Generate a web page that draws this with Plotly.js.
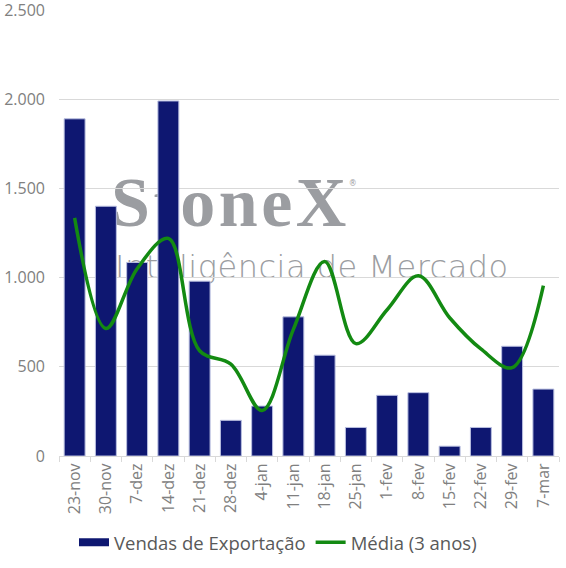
<!DOCTYPE html>
<html>
<head>
<meta charset="utf-8">
<script src="https://cdn.plot.ly/plotly-3.0.1.min.js"></script>
<style>
  html, body { margin: 0; padding: 0; background: #ffffff; }
  #wrap { position: relative; width: 566px; height: 568px; overflow: hidden; }
  #wm1 { position: absolute; left: 111px; top: 168px; z-index: 0;
         font-family: "Liberation Serif", serif; font-weight: bold; font-size: 70px;
         letter-spacing: 3.5px; color: #9b9da1; line-height: 1; white-space: nowrap; }
  #wm1 sup { font-family: "DejaVu Sans", sans-serif; font-weight: normal; font-size: 8px; vertical-align: top; position: relative; top: 12px; left: -1px; letter-spacing: 0; }
  #wm2 { position: absolute; left: 115px; top: 251px; z-index: 0;
         font-family: "DejaVu Sans", sans-serif; font-weight: 200; font-size: 32px;
         letter-spacing: 0.5px; color: #9b9da1; line-height: 1; white-space: nowrap; }
  #chart { position: absolute; left: 0; top: 0; width: 566px; height: 568px; z-index: 1; }
</style>
</head>
<body>
<div id="wrap">
  <div id="wm1">StoneX<sup>®</sup></div>
  <div id="wm2">Inteligência de Mercado</div>
  <div id="chart"></div>
</div>
<script>
const categories = ["23-nov","30-nov","7-dez","14-dez","21-dez","28-dez","4-jan","11-jan","18-jan","25-jan","1-fev","8-fev","15-fev","22-fev","29-fev","7-mar"];
const vendasExportacao = [1890, 1400, 1085, 1990, 980, 200, 280, 780, 565, 160, 340, 355, 55, 160, 615, 375];
const media3anos = [1335, 715, 1050, 1220, 590, 515, 255, 710, 1090, 630, 820, 1010, 775, 600, 495, 955];
const yTicks = [0, 500, 1000, 1500, 2000, 2500];

const fontFam = "'Open Sans', sans-serif";
const barColor = "#0e1771";
const lineColor = "#138a12";

const traces = [
  {
    type: "bar",
    name: "Vendas de Exportação",
    x: categories,
    y: vendasExportacao,
    marker: { color: barColor, line: { color: "#b9bfe0", width: 1 } },
    showlegend: false,
    legendgroup: "v"
  },
  {
    // legend entry for the bars (wide swatch like the reference)
    type: "scatter",
    mode: "lines",
    name: "Vendas de Exportação",
    x: [categories[0]],
    y: [null],
    line: { color: barColor, width: 8 },
    legendgroup: "v",
    showlegend: true
  },
  {
    type: "scatter",
    mode: "lines",
    name: "Média (3 anos)",
    x: categories,
    y: media3anos,
    line: { color: lineColor, width: 3.5, shape: "spline", smoothing: 1 }
  }
];

const layout = {
  width: 566,
  height: 568,
  margin: { l: 59, r: 7, t: 10, b: 111 },
  paper_bgcolor: "rgba(0,0,0,0)",
  plot_bgcolor: "rgba(0,0,0,0)",
  separators: ",.",
  bargap: 0.33,
  font: { family: fontFam, color: "#808080", size: 16 },
  showlegend: true,
  legend: {
    orientation: "h",
    x: 0.03, xanchor: "left",
    y: -0.192, yanchor: "middle",
    font: { family: fontFam, size: 18.5, color: "#595959" },
    itemwidth: 30,
    traceorder: "normal"
  },
  xaxis: {
    type: "category",
    tickangle: -90,
    showline: true,
    linecolor: "#d9d9d9",
    linewidth: 1,
    ticks: "outside",
    tickson: "boundaries",
    ticklen: 5,
    tickcolor: "#d9d9d9",
    showgrid: false,
    tickfont: { family: fontFam, size: 16, color: "#808080" },
    fixedrange: true
  },
  yaxis: {
    range: [0, 2500],
    tickvals: yTicks,
    tickformat: ",d",
    separatethousands: true,
    showgrid: true,
    gridcolor: "#d9d9d9",
    gridwidth: 1,
    zeroline: false,
    showline: false,
    ticks: "",
    ticklabelstandoff: 13,
    ticklabeloverflow: "allow",
    tickfont: { family: fontFam, size: 16, color: "#808080" },
    fixedrange: true
  }
};

Plotly.newPlot("chart", traces, layout, { displayModeBar: false, staticPlot: true });
</script>
</body>
</html>
